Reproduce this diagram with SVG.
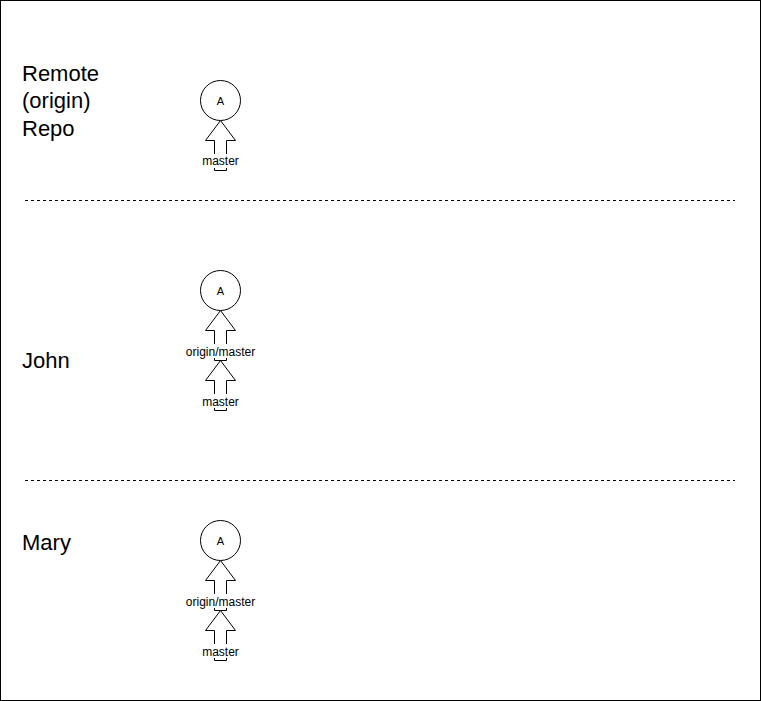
<svg xmlns="http://www.w3.org/2000/svg" width="761" height="701" viewBox="0 0 761 701">
<style>
.lbl{font-family:"Liberation Sans",Arial,sans-serif;font-size:22px;fill:#000}
.sm{font-family:"Liberation Sans",Arial,sans-serif;font-size:12px;fill:#000;text-anchor:middle}
.nd{font-family:"Liberation Sans",Arial,sans-serif;font-size:11px;fill:#000;text-anchor:middle}
.node{fill:#fff;stroke:#000;stroke-width:1}
.arr{fill:#fff;stroke:#000;stroke-width:1;stroke-linejoin:miter}
.dash{stroke:#000;stroke-width:1;stroke-dasharray:3 3;fill:none}
.bg{fill:#fff}
</style>
<defs>
<path id="barrow" d="M0,0 L15,20 L6,20 L6,50 L-6,50 L-6,20 L-15,20 Z"/>
</defs>
<rect x="0.5" y="0.5" width="760" height="700" fill="#fff" stroke="#000"/>
<g id="labels">
<text class="lbl" x="22" y="80.5">Remote</text>
<text class="lbl" x="22" y="108">(origin)</text>
<text class="lbl" x="22" y="135.5">Repo</text>
<text class="lbl" x="22" y="368">John</text>
<text class="lbl" x="22" y="549.5">Mary</text>
</g>
<g id="separators">
<line class="dash" x1="25" y1="200.5" x2="735" y2="200.5"/>
<line class="dash" x1="25" y1="480.5" x2="735" y2="480.5"/>
</g>
<g id="connectors">
<use href="#barrow" class="arr" x="220.5" y="120.5"/>
<use href="#barrow" class="arr" x="220.5" y="310.5"/>
<use href="#barrow" class="arr" x="220.5" y="360.5"/>
<use href="#barrow" class="arr" x="220.5" y="560.5"/>
<use href="#barrow" class="arr" x="220.5" y="610.5"/>
</g>
<g id="remote-A"><circle class="node" cx="220.5" cy="100.5" r="20"/><text class="nd" x="220.5" y="104.5">A</text></g>
<g id="remote-master"><rect class="bg" x="202" y="154" width="37" height="14"/><text class="sm" x="220.5" y="165">master</text></g>
<g id="john-A"><circle class="node" cx="220.5" cy="290.5" r="20"/><text class="nd" x="220.5" y="294.5">A</text></g>
<g id="john-origin-master"><rect class="bg" x="186" y="344" width="69" height="14"/><text class="sm" x="220.5" y="355.5">origin/master</text></g>
<g id="john-master"><rect class="bg" x="202" y="394" width="37" height="14"/><text class="sm" x="220.5" y="405.5">master</text></g>
<g id="mary-A"><circle class="node" cx="220.5" cy="540.5" r="20"/><text class="nd" x="220.5" y="544.5">A</text></g>
<g id="mary-origin-master"><rect class="bg" x="186" y="594" width="69" height="14"/><text class="sm" x="220.5" y="605.5">origin/master</text></g>
<g id="mary-master"><rect class="bg" x="202" y="644" width="37" height="14"/><text class="sm" x="220.5" y="655.5">master</text></g>
</svg>
